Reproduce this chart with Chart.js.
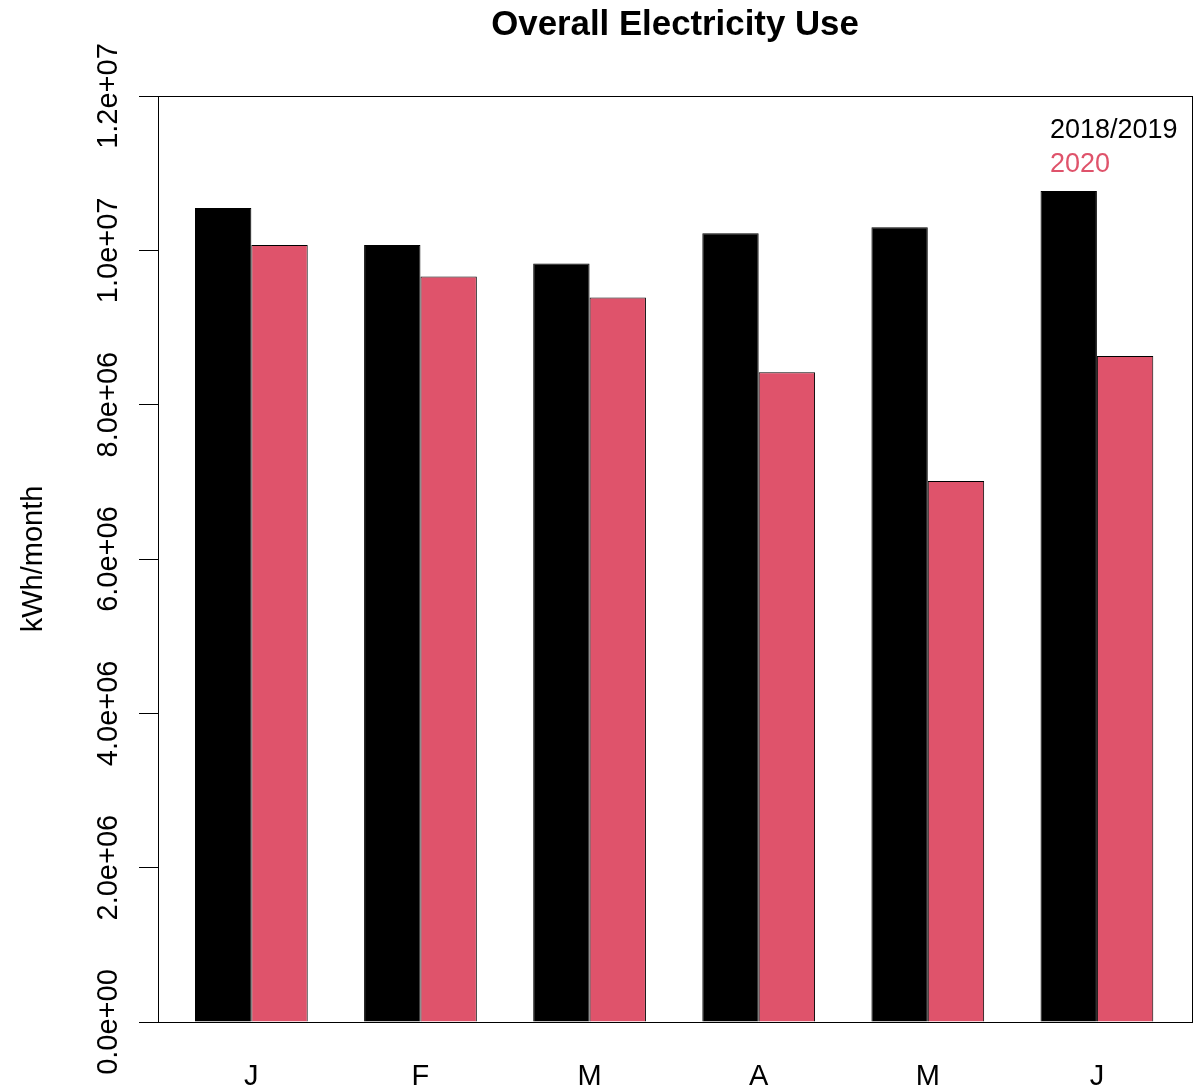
<!DOCTYPE html>
<html>
<head>
<meta charset="utf-8">
<title>Overall Electricity Use</title>
<script src="https://cdn.jsdelivr.net/npm/chart.js@4.4.0/dist/chart.umd.min.js"></script>
<style>
  html, body { margin: 0; padding: 0; background: #fff; }
  canvas { display: block; }
</style>
</head>
<body>
<canvas id="chart" width="1201" height="1090"></canvas>
<script>
// Monthly electricity use, January to June (kWh/month)
const months = ['J', 'F', 'M', 'A', 'M', 'J'];
const use20182019 = [10.55e6, 10.07e6, 9.83e6, 10.22e6, 10.30e6, 10.77e6];
const use2020 = [10.07e6, 9.66e6, 9.39e6, 8.42e6, 7.01e6, 8.63e6];
const seriesNames = ['2018/2019', '2020'];
const yTickValues = [0, 2e6, 4e6, 6e6, 8e6, 10e6, 12e6];
const yTickLabels = ['0.0e+00', '2.0e+06', '4.0e+06', '6.0e+06', '8.0e+06', '1.0e+07', '1.2e+07'];
const titleText = 'Overall Electricity Use';
const yTitle = 'kWh/month';

const FONT = '"Liberation Sans", Arial, Helvetica, sans-serif';
const RED = '#DF536B';

// Each month takes three bar widths: a one-bar gap, then the two bars side by side.
const groupCenter = i => 3 * i + 2;

// Box around the plot, rotated y labels, axis title, main title and text legend
const decorations = {
  id: 'decorations',
  afterDraw(chart) {
    const { ctx, chartArea: a } = chart;
    const yScale = chart.scales.y;
    ctx.save();
    ctx.strokeStyle = '#000';
    ctx.lineWidth = 1;
    ctx.strokeRect(a.left + 0.5, a.top + 0.5, a.right - a.left, a.bottom - a.top);

    ctx.fillStyle = '#000';
    ctx.font = '29px ' + FONT;
    ctx.textAlign = 'center';
    ctx.textBaseline = 'alphabetic';
    yTickValues.forEach((v, i) => {
      const py = yScale.getPixelForValue(v);
      ctx.save();
      ctx.translate(a.left - 41, py);
      ctx.rotate(-Math.PI / 2);
      ctx.fillText(yTickLabels[i], 0, 0);
      ctx.restore();
    });

    ctx.save();
    ctx.translate(42, (a.top + a.bottom) / 2);
    ctx.rotate(-Math.PI / 2);
    ctx.fillText(yTitle, 0, 0);
    ctx.restore();

    ctx.font = 'bold 34.8px ' + FONT;
    ctx.fillText(titleText, (a.left + a.right) / 2, 35);

    ctx.font = '27px ' + FONT;
    ctx.textAlign = 'left';
    chart.data.datasets.forEach((ds, i) => {
      ctx.fillStyle = ds.textColor;
      ctx.fillText(ds.label, a.right - 142, a.top + 42 + i * 34);
    });
    ctx.restore();
  }
};

new Chart(document.getElementById('chart'), {
  type: 'bar',
  data: {
    datasets: [
      {
        label: seriesNames[0],
        data: use20182019.map((v, i) => ({ x: groupCenter(i), y: v })),
        backgroundColor: '#000',
        borderColor: '#000',
        borderWidth: 1,
        textColor: '#000'
      },
      {
        label: seriesNames[1],
        data: use2020.map((v, i) => ({ x: groupCenter(i), y: v })),
        backgroundColor: RED,
        borderColor: '#000',
        borderWidth: 1,
        textColor: RED
      }
    ]
  },
  options: {
    responsive: false,
    animation: false,
    devicePixelRatio: 1,
    layout: { padding: { top: 96, right: 9, left: 0, bottom: 0 } },
    datasets: { bar: { categoryPercentage: 2 / 3, barPercentage: 1 } },
    plugins: {
      legend: { display: false },
      title: { display: false },
      tooltip: { enabled: false }
    },
    scales: {
      x: {
        type: 'linear',
        min: 0.344,
        max: 18.687,
        offset: false,
        grid: { display: false, drawTicks: false },
        border: { display: false },
        afterBuildTicks: s => { s.ticks = months.map((m, i) => ({ value: groupCenter(i) })); },
        afterFit: s => { s.height = 68; },
        ticks: {
          autoSkip: false,
          maxRotation: 0,
          padding: 40.5,
          color: '#000',
          font: { family: FONT, size: 29, lineHeight: 1 },
          callback: (value, index) => months[index]
        }
      },
      y: {
        min: 0,
        max: 1.2e7,
        afterBuildTicks: s => { s.ticks = yTickValues.map(v => ({ value: v })); },
        afterFit: s => { s.width = 158; },
        ticks: { display: false },
        grid: { drawOnChartArea: false, drawTicks: true, tickLength: 19, color: '#000', lineWidth: 1 },
        border: { display: false }
      }
    }
  },
  plugins: [decorations]
});
</script>
</body>
</html>
